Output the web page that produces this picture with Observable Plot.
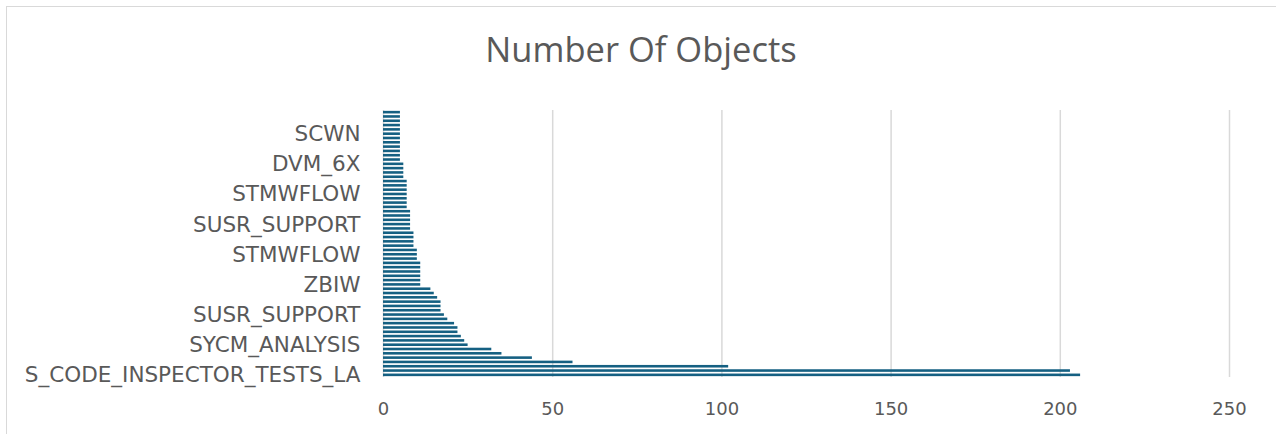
<!DOCTYPE html>
<html>
<head>
<meta charset="utf-8">
<script src="https://cdn.jsdelivr.net/npm/d3@7"></script>
<script src="https://cdn.jsdelivr.net/npm/@observablehq/plot@0.6"></script>
<style>
  html, body { margin: 0; padding: 0; background: #fff; }
  #wrap { position: relative; width: 1276px; height: 434px; overflow: hidden; }
  #frame { position: absolute; left: 6px; top: 6px; width: 1320px; height: 520px; border: 1.5px solid #d9d9d9; box-sizing: border-box; }
  #title { position: absolute; left: 3px; width: 1276px; top: 26px; text-align: center; font-family: "Open Sans", sans-serif; font-weight: 400; font-size: 34.5px; line-height: 46px; color: #595959; }
  #chart { position: absolute; left: 0; top: 0; }
</style>
</head>
<body>
<div id="wrap">
  <div id="frame"></div>
  <div id="chart"></div>
  <div id="title">Number Of Objects</div>
</div>
<script>
// Values listed from the bottom bar (first category) to the top bar
const values = [
  206, 203, 102, 56, 44, 35, 32,
  25, 24, 23, 22, 22, 21, 19,
  18, 17, 17, 17, 16, 15, 14,
  11, 11, 11, 11, 11, 11, 10,
  10, 10, 9, 9, 9, 9, 8,
  8, 8, 8, 8, 7, 7, 7,
  7, 7, 7, 7, 6, 6, 6,
  6, 5, 5, 5, 5, 5, 5,
  5, 5, 5, 5, 5, 5
];
// Visible category labels (every 7th category, from the bottom)
const labels = [
  "S_CODE_INSPECTOR_TESTS_LA", "SYCM_ANALYSIS", "SUSR_SUPPORT", "ZBIW",
  "STMWFLOW", "SUSR_SUPPORT", "STMWFLOW", "DVM_6X", "SCWN"
];
const labelEvery = 7;
const xTicks = [0, 50, 100, 150, 200, 250];

const data = values.map((v, i) => ({i, v}));
const yTicks = labels.map((_, k) => k * labelEvery);

const chart = Plot.plot({
  width: 1276,
  height: 434,
  marginLeft: 383,
  marginRight: 47,
  marginTop: 110,
  marginBottom: 57,
  style: {fontFamily: "DejaVu Sans, sans-serif", fontSize: "18px", color: "#595959", background: "transparent"},
  x: {domain: [0, 250]},
  y: {domain: d3.range(values.length).reverse(), paddingInner: 0.4, paddingOuter: 0.2, round: false},
  marks: [
    Plot.gridX({ticks: xTicks, stroke: "#d9d9d9", strokeOpacity: 1, strokeWidth: 1.5}),
    Plot.barX(data, {x: "v", y: "i", fill: "#156082"}),
    Plot.axisX({ticks: xTicks, tickSize: 0, tickPadding: 25, fontSize: 18, label: null}),
    Plot.axisY({ticks: yTicks, tickFormat: i => labels[i / labelEvery], tickSize: 0, tickPadding: 23, fontSize: 21.5, label: null})
  ]
});
document.getElementById("chart").appendChild(chart);
</script>
</body>
</html>
